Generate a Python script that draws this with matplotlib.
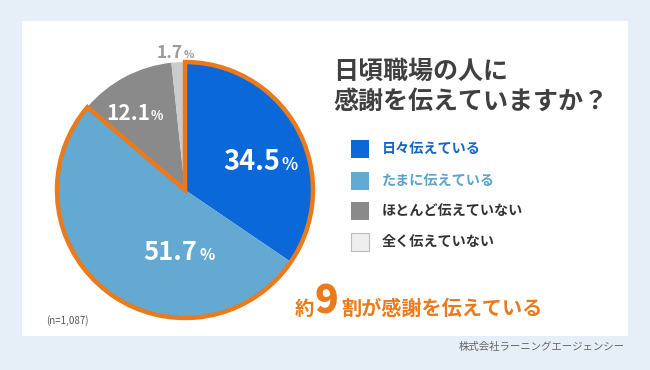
import matplotlib
matplotlib.use("Agg")
import matplotlib.pyplot as plt
from matplotlib.patches import Rectangle, Wedge

plt.rcParams['font.family'] = ['Noto Sans CJK JP', 'DejaVu Sans']

# data
categories = ['日々伝えている', 'たまに伝えている', 'ほとんど伝えていない', '全く伝えていない']
values = [34.5, 51.7, 12.1, 1.7]
n_label = '(n=1,087)'
title_lines = ['日頃職場の人に', '感謝を伝えていますか？']
note_parts = ['約', '9', '割が感謝を伝えている']
source = '株式会社ラーニングエージェンシー'

pie_colors = ['#0a68d8', '#63a9d1', '#8a8a8a', '#cbcbcb']
legend_fill = ['#0a68d8', '#63a9d1', '#8a8a8a', '#eeeeee']
legend_text = ['#1565c8', '#5aa3cc', '#333333', '#333333']
orange = '#ea7a1b'

W, H = 650, 370
fig = plt.figure(figsize=(W / 100, H / 100), dpi=100)
fig.patch.set_facecolor('#e6eef7')

# background axes in pixel coords (y down)
ax = fig.add_axes([0, 0, 1, 1])
ax.set_xlim(0, W)
ax.set_ylim(H, 0)
ax.axis('off')
ax.add_patch(Rectangle((22, 21), 606, 315, facecolor='white', edgecolor='none', zorder=0))

# pie
cx, cy, r = 185, 190, 128
axp = fig.add_axes([(cx - r) / W, (H - cy - r) / H, 2 * r / W, 2 * r / H])
axp.pie(values, colors=pie_colors, startangle=90, counterclock=False, radius=1,
        wedgeprops=dict(linewidth=0))
axp.set_xlim(-1, 1)
axp.set_ylim(-1, 1)
axp.set_aspect('equal')
axp.axis('off')
end_angle = 90 - 3.6 * (values[0] + values[1])
axp.add_patch(Wedge((0, 0), 1, end_angle, 90, fill=False, edgecolor=orange,
                    linewidth=3.2, joinstyle='miter', clip_on=False, zorder=5))

# text layer on top
axt = fig.add_axes([0, 0, 1, 1])
axt.set_xlim(0, W)
axt.set_ylim(H, 0)
axt.axis('off')
axt.patch.set_alpha(0)

# value labels: (number right edge x, baseline y, size, colour)
lab_pos = [(280, 170, 19.5, 'white'), (197, 260, 18.5, 'white'),
           (150, 120, 15, 'white'), (183, 58, 12.5, '#9a9a9a')]
for v, (x, y, fs, col) in zip(values, lab_pos):
    axt.text(x, y, f'{v}', ha='right', va='baseline', fontsize=fs,
             fontweight='bold', color=col)
    gap = 3 if v == values[1] else 1
    axt.text(x + gap, y, '%', ha='left', va='baseline', fontsize=fs * 0.62,
             fontweight='bold', color=col)

# title
axt.text(333, 72, title_lines[0], ha='left', va='center', fontsize=18,
         fontweight='bold', color='#404040')
axt.text(333, 102, title_lines[1], ha='left', va='center', fontsize=18,
         fontweight='bold', color='#404040')

# legend
rows = [149, 180.5, 211, 242]
for lab, fc, tc, y in zip(categories, legend_fill, legend_text, rows):
    ec = '#bbbbbb' if fc == '#eeeeee' else 'none'
    axt.add_patch(Rectangle((351, y - 9), 18, 18, facecolor=fc, edgecolor=ec, lw=0.8))
    axt.text(382, y, lab, ha='left', va='center', fontsize=10.2,
             fontweight='bold', color=tc)

# note
axt.text(295, 315, note_parts[0], ha='left', va='baseline', fontsize=14,
         fontweight='bold', color=orange)
axt.text(314, 314, note_parts[1], ha='left', va='baseline', fontsize=28,
         fontweight='heavy', color=orange)
axt.text(341, 315, note_parts[2], ha='left', va='baseline', fontsize=14.5,
         fontweight='bold', color=orange)

axt.text(46, 321, n_label, ha='left', va='center', fontsize=7, color='#555555')
axt.text(625, 347, source, ha='right', va='center', fontsize=7.5, color='#666666')

fig.savefig('out.png', dpi=100, facecolor=fig.get_facecolor())
